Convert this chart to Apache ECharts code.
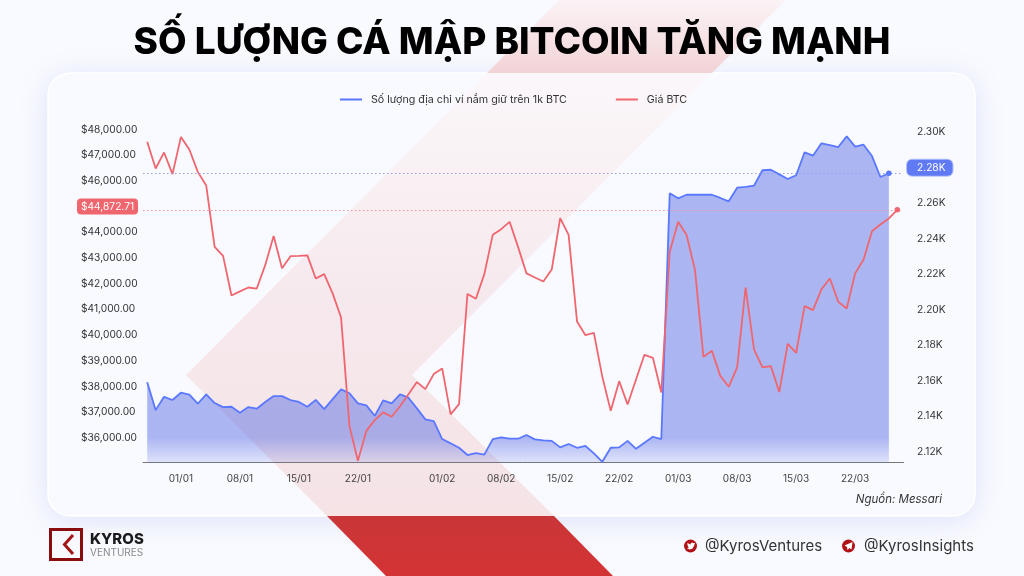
<!DOCTYPE html>
<html>
<head>
<meta charset="utf-8">
<style>
  html, body { margin: 0; padding: 0; background: #f9faff; }
  #chart { width: 1024px; height: 576px; }
</style>
<script src="https://cdn.jsdelivr.net/npm/echarts@6/dist/echarts.min.js"></script>
</head>
<body>
<div id="chart"></div>
<script>
const FONT = "Inter, 'Open Sans', sans-serif";

const days = [
  "28/12","29/12","30/12","31/12",
  "01/01","02/01","03/01","04/01","05/01","06/01","07/01","08/01","09/01","10/01","11/01","12/01","13/01","14/01","15/01","16/01",
  "17/01","18/01","19/01","20/01","21/01","22/01","23/01","24/01","25/01","26/01","27/01","28/01","29/01","30/01","31/01",
  "01/02","02/02","03/02","04/02","05/02","06/02","07/02","08/02","09/02","10/02","11/02","12/02","13/02","14/02","15/02",
  "16/02","17/02","18/02","19/02","20/02","21/02","22/02","23/02","24/02","25/02","26/02","27/02","28/02",
  "01/03","02/03","03/03","04/03","05/03","06/03","07/03","08/03","09/03","10/03","11/03","12/03","13/03","14/03","15/03",
  "16/03","17/03","18/03","19/03","20/03","21/03","22/03","23/03","24/03","25/03","26/03","27/03"
];
const tickDays = ["01/01","08/01","15/01","22/01","01/02","08/02","15/02","22/02","01/03","08/03","15/03","22/03"];

// so luong dia chi tren 1k BTC (null: ngay cuoi chua co so lieu)
const whales = [
  2159.2,2143.5,2151.0,2149.2,2153.3,2152.2,2147.1,2152.4,2147.5,2145.2,
  2145.4,2142.0,2145.2,2144.3,2148.1,2151.4,2151.4,2149.2,2148.1,2145.4,
  2149.3,2144.1,2149.7,2155.2,2153.0,2147.3,2146.2,2140.3,2149.0,2147.3,
  2152.4,2150.5,2144.5,2138.3,2137.3,2127.2,2124.8,2122.3,2118.2,2119.3,
  2118.4,2127.2,2128.2,2127.4,2127.4,2129.5,2127.0,2126.5,2126.2,2122.5,
  2124.4,2122.3,2123.3,2119.1,2114.4,2122.3,2122.5,2126.2,2121.7,2125.1,
  2128.5,2127.2,2265.6,2262.8,2264.8,2264.8,2264.8,2264.8,2263.0,2261.1,
  2268.8,2269.2,2269.9,2278.6,2278.9,2276.3,2273.7,2275.8,2288.7,2286.8,
  2293.8,2292.8,2291.7,2297.7,2291.9,2293.0,2286.6,2274.8,2276.9,null
];
const price = [
  47520,46480,47105,46260,47710,47220,46350,45820,43430,43080,
  41540,41700,41850,41810,42720,43850,42600,43070,43080,43100,
  42200,42370,41620,40685,36455,35105,36270,36690,36990,36820,
  37230,37700,38170,37895,38480,38700,36910,37310,41600,41410,
  42370,43900,44120,44405,43430,42400,42240,42085,42550,44550,
  43900,40530,39995,40085,38375,37050,38205,37300,38270,39230,
  39115,37765,43240,44405,43890,42525,39150,39385,38410,37985,
  38740,41850,39440,38740,38790,37780,39660,39310,41125,40970,
  41775,42200,41290,41035,42400,42940,44040,44300,44535,44872.71
];
const lastWhales = 2276.9;
const lastPrice = 44872.71;

const BLUE = "#5a78ff";
const RED = "#f0666f";

const isTickDay = (i, v) => tickDays.includes(v);
const money = (v) => "$" + v.toLocaleString("en-US", { minimumFractionDigits: 2 });

// nen + ruy bang do + the trang
const background = [
  {
    type: "rect", z: -11, silent: true,
    shape: { x: 48, y: 73, width: 927, height: 443, r: 22 },
    style: { fill: "#f9faff", shadowBlur: 28, shadowColor: "rgba(120,135,225,0.22)", shadowOffsetY: 4 },
  },
  {
    type: "rect", z: -10, silent: true,
    shape: { x: 48, y: 73, width: 927, height: 443, r: 22 },
    style: { fill: "#f9faff", stroke: "#ffffff", lineWidth: 1.5 },
  },
  {
    type: "polygon", z: -9, silent: true,
    shape: { points: [[559, 0], [786, 0], [712, 73], [487, 73]] },
    style: { fill: { type: "linear", x: 0, y: 0, x2: 0, y2: 1, colorStops: [{ offset: 0, color: "#fbf3f6" }, { offset: 1, color: "#f2d3d6" }] } },
  },
  {
    type: "polygon", z: -9, silent: true,
    shape: { points: [[487, 73], [712, 73], [412, 375], [554, 516], [327, 516], [186, 375]] },
    style: { fill: { type: "linear", x: 0, y: 0, x2: 0, y2: 1, colorStops: [{ offset: 0, color: "#fbf7fa" }, { offset: 0.5, color: "#f6e9ed" }, { offset: 1, color: "#f5e3e6" }] } },
  },
  {
    type: "polygon", z: -9, silent: true,
    shape: { points: [[327, 516], [554, 516], [613, 576], [386, 576]] },
    style: { fill: { type: "linear", x: 0, y: 0, x2: 0, y2: 1, colorStops: [{ offset: 0, color: "#c93638" }, { offset: 1, color: "#d43334" }] } },
  },
];

const footer = [
  { type: "rect", shape: { x: 50.5, y: 529.5, width: 31, height: 30 }, style: { fill: "none", stroke: "#8a0c0c", lineWidth: 3 } },
  { type: "polyline", shape: { points: [[73, 535], [64.5, 544.5], [73, 554]] }, style: { fill: "none", stroke: "#a31616", lineWidth: 3 } },
  { type: "text", style: { x: 90, y: 539, text: "KYROS", font: "800 15px " + FONT, fill: "#1a1a1a", verticalAlign: "middle" } },
  { type: "text", style: { x: 90, y: 553, text: "VENTURES", font: "400 10px " + FONT, fill: "#8a8a8a", verticalAlign: "middle" } },
  { type: "circle", shape: { cx: 690.5, cy: 546, r: 6.5 }, style: { fill: "#b01217" } },
  // chim twitter, ve gon bang polygon
  { type: "polygon", shape: { points: [[695, 542.8], [693.6, 543.2], [692.3, 542.4], [690.6, 543.4], [690.6, 544.4], [687.4, 543], [687.4, 545], [688.2, 546], [687.6, 546], [688.8, 547.4], [687, 548.2], [689.6, 549.4], [692.6, 548.4], [694.2, 545.6]] }, style: { fill: "#ffffff" } },
  { type: "text", style: { x: 705, y: 546, text: "@KyrosVentures", font: "400 15px " + FONT, fill: "#333333", verticalAlign: "middle" } },
  { type: "circle", shape: { cx: 848.5, cy: 546, r: 6.5 }, style: { fill: "#b01217" } },
  { type: "polygon", shape: { points: [[852.5, 542], [844.5, 545.5], [847, 547], [847.5, 550], [849.5, 548], [851.5, 549.5]] }, style: { fill: "#ffffff" } },
  { type: "text", style: { x: 864, y: 546, text: "@KyrosInsights", font: "400 15px " + FONT, fill: "#333333", verticalAlign: "middle" } },
];

const chart = echarts.init(document.getElementById("chart"), null, { renderer: "canvas" });

chart.setOption({
  animation: false,
  backgroundColor: "#f9faff",
  title: {
    text: "SỐ LƯỢNG CÁ MẬP BITCOIN TĂNG MẠNH",
    left: "center",
    top: 19,
    textStyle: { fontFamily: FONT, fontWeight: 800, fontSize: 37, color: "#000000" },
  },
  legend: {
    left: 340,
    top: 94,
    padding: 0,
    itemWidth: 22,
    itemHeight: 2,
    itemGap: 49,
    icon: "rect",
    textStyle: { fontFamily: FONT, fontSize: 10.7, color: "#333333", padding: [0, 0, 0, 4] },
    data: ["Số lượng địa chỉ ví nắm giữ trên 1k BTC", "Giá BTC"],
  },
  grid: { left: 143, right: 122.5, top: 120.2, bottom: 113.5 },
  xAxis: {
    type: "category",
    data: days,
    axisLine: { lineStyle: { color: "#777777", width: 1 } },
    axisTick: { alignWithLabel: true, interval: isTickDay, length: 4, lineStyle: { color: "#777777" } },
    axisLabel: { interval: isTickDay, fontFamily: FONT, fontSize: 10, color: "#444444", margin: 11 },
    splitLine: { show: false },
  },
  yAxis: [
    {
      type: "value",
      position: "left",
      min: 35040,
      max: 48360,
      interval: 40,
      axisLine: { show: false },
      axisTick: { show: false },
      splitLine: { show: false },
      axisLabel: {
        align: "left",
        margin: 66,
        formatter: (v) => {
          if (v % 1000 !== 0) return "";
          return v === 45000 ? "{tag|" + money(lastPrice) + "}" : "{num|" + money(v) + "}";
        },
        rich: {
          num: { fontFamily: FONT, fontSize: 10.2, color: "#333333", padding: [3, 4] },
          tag: { fontFamily: FONT, fontSize: 10.2, color: "#ffffff", padding: [3, 4], backgroundColor: RED, borderRadius: 4 },
        },
      },
    },
    {
      type: "value",
      position: "right",
      min: 2114,
      max: 2306.8,
      interval: 2,
      axisLine: { show: false },
      axisTick: { show: false },
      splitLine: { show: false },
      axisLabel: {
        align: "left",
        margin: 5.5,
        formatter: (v) => {
          if (v % 20 !== 0) return "";
          const s = (v / 1000).toFixed(2) + "K";
          return v === 2280 ? "{tag|" + s + "}" : "{num|" + s + "}";
        },
        rich: {
          num: { fontFamily: FONT, fontSize: 10.2, color: "#333333", padding: [3, 7, 3, 10] },
          tag: { fontFamily: FONT, fontSize: 10.2, color: "#ffffff", padding: [3, 7, 3, 10], backgroundColor: "#6079f5", borderColor: "#b6c2fb", borderWidth: 1, borderRadius: 5 },
        },
      },
    },
  ],
  series: [
    {
      name: "Số lượng địa chỉ ví nắm giữ trên 1k BTC",
      type: "line",
      yAxisIndex: 1,
      data: whales,
      showSymbol: false,
      smooth: false,
      itemStyle: { color: BLUE },
      lineStyle: { color: BLUE, width: 1.8 },
      areaStyle: {
        origin: "start",
        opacity: 1,
        color: {
          type: "linear", global: true, x: 0, y: 0, x2: 0, y2: 463,
          colorStops: [
            { offset: 0, color: "rgba(94,113,229,0.5)" },
            { offset: 0.945, color: "rgba(94,113,229,0.5)" },
            { offset: 1, color: "rgba(94,113,229,0.16)" },
          ],
        },
      },
      markLine: {
        silent: true,
        symbol: "none",
        label: { show: false },
        data: [{ yAxis: lastWhales, lineStyle: { color: "#8fa0fb", type: [1.5, 2.5], width: 1 } }],
      },
      markPoint: {
        silent: true,
        symbol: "circle",
        symbolSize: 5.5,
        label: { show: false },
        itemStyle: { color: BLUE },
        data: [{ xAxis: 88, yAxis: lastWhales }],
      },
    },
    {
      name: "Giá BTC",
      type: "line",
      yAxisIndex: 0,
      data: price,
      showSymbol: false,
      itemStyle: { color: RED },
      lineStyle: { color: RED, width: 1.8 },
      markLine: {
        silent: true,
        symbol: "none",
        label: { show: false },
        data: [{ yAxis: lastPrice, lineStyle: { color: "#f8949a", type: [1.5, 2.5], width: 1 } }],
      },
      markPoint: {
        silent: true,
        symbol: "circle",
        symbolSize: 5.5,
        label: { show: false },
        itemStyle: { color: RED },
        data: [{ xAxis: 89, yAxis: lastPrice }],
      },
    },
  ],
  graphic: [
    ...background,
    ...footer,
    // truc x trong ban goc dai hon mot chut ben phai
    { type: "line", shape: { x1: 901.5, y1: 462.5, x2: 904, y2: 462.5 }, style: { stroke: "#777777", lineWidth: 1 } },
    {
      type: "text",
      style: { x: 942, y: 500, text: "Nguồn: Messari", font: "italic 400 11.5px " + FONT, fill: "#333333", align: "right", verticalAlign: "middle" },
    },
  ],
});
</script>
</body>
</html>
